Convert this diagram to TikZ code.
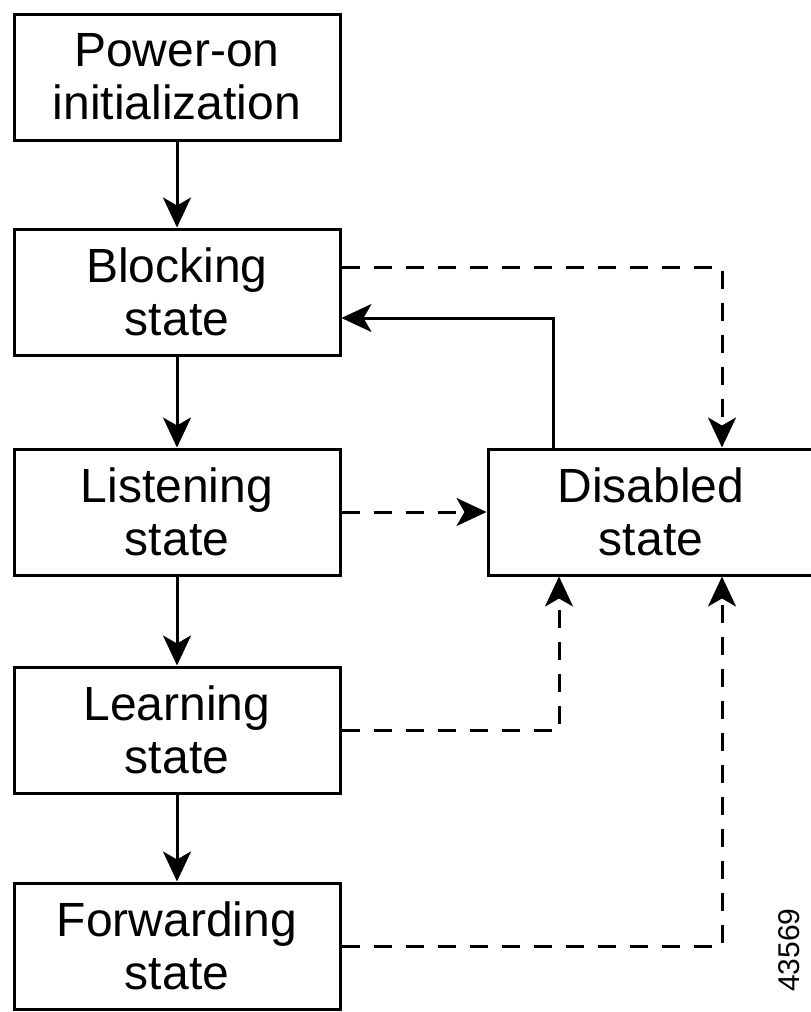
\documentclass[tikz,border=0pt]{standalone}
\usepackage{fontspec}
\setmainfont{Liberation Sans}
\usetikzlibrary{arrows.meta}

\begin{document}
\begin{tikzpicture}[x=0.5pt, y=-0.5pt,
  zustand/.style={draw, line width=1.5pt, minimum width=163pt, minimum height=63pt,
    align=center, inner sep=0pt, font=\fontsize{24}{26.5}\selectfont},
  pfeil/.style={line width=1.5pt, -{Stealth[length=15pt, width=14pt, inset=4pt]}},
  gestrichelt/.style={pfeil, dash pattern=on 9pt off 7pt}]
\useasboundingbox (0,0) rectangle (810,1012);

% Zustaende
\node[zustand] (init) at (177,77) {Power-on\\initialization};
\node[zustand] (block) at (177,292) {Blocking\\state};
\node[zustand] (listen) at (177,512) {Listening\\state};
\node[zustand] (learn) at (177,730) {Learning\\state};
\node[zustand] (forward) at (177,946) {Forwarding\\state};
\node[zustand] (disabled) at (651,512) {Disabled\\state};

% Hauptablauf
\draw[pfeil] (init) -- (block);
\draw[pfeil] (block) -- (listen);
\draw[pfeil] (listen) -- (learn);
\draw[pfeil] (learn) -- (forward);

% Uebergaenge zu Disabled
\draw[gestrichelt] ([yshift=12.5pt]block.east) -| ([xshift=35.5pt]disabled.north);
\draw[pfeil] ([xshift=-49pt]disabled.north) |- ([yshift=-13pt]block.east);
\draw[gestrichelt] (listen) -- (disabled);
\draw[gestrichelt] (learn.east) -| ([xshift=-46pt]disabled.south);
\draw[gestrichelt] (forward.east) -| ([xshift=35.5pt]disabled.south);

% Bildnummer
\node[rotate=90, inner sep=1pt, font=\fontsize{15}{15}\selectfont] (nummer) at (789,950) {43569};
\end{tikzpicture}
\end{document}
